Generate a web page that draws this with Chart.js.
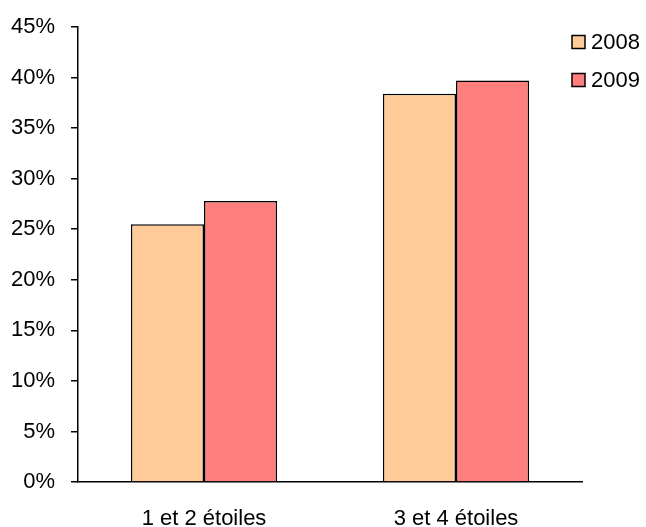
<!DOCTYPE html>
<html>
<head>
<meta charset="utf-8">
<script src="https://cdn.jsdelivr.net/npm/chart.js@4/dist/chart.umd.min.js"></script>
<style>
  html, body { margin: 0; padding: 0; background: #fff; }
  #chart-container { width: 646px; height: 527px; }
</style>
</head>
<body>
<div id="chart-container"><canvas id="mycanvas" width="646" height="527"></canvas></div>
<script>
var categories = ['1 et 2 étoiles', '3 et 4 étoiles'];
var valores2008 = [25.5, 38.4];
var valores2009 = [27.8, 39.7];
var yTicks = [0, 5, 10, 15, 20, 25, 30, 35, 40, 45];

var fontFamily = '"Liberation Sans", Arial, sans-serif';

// legend drawn at top right, like the original
var legendPlugin = {
    id: 'sideLegend',
    afterDraw: function (chart) {
        var ctx = chart.ctx;
        var sets = chart.data.datasets;
        ctx.save();
        ctx.font = '22px ' + fontFamily;
        ctx.textBaseline = 'middle';
        for (var i = 0; i < sets.length; i++) {
            var y = 42 + i * 38;
            ctx.fillStyle = sets[i].backgroundColor;
            ctx.fillRect(572, y - 6.5, 13, 13);
            ctx.lineWidth = 1.5;
            ctx.strokeStyle = '#000';
            ctx.strokeRect(572, y - 6.5, 13, 13);
            ctx.fillStyle = '#000';
            ctx.fillText(sets[i].label, 591, y + 1);
        }
        ctx.restore();
    }
};

var chartdata = {
    labels: categories,
    datasets: [{
        label: '2008',
        backgroundColor: '#FFCC99',
        borderColor: '#000',
        borderWidth: 1.5,
        data: valores2008
    }, {
        label: '2009',
        backgroundColor: '#FF7F7F',
        borderColor: '#000',
        borderWidth: 1.5,
        data: valores2009
    }]
};

var ctx = document.getElementById('mycanvas');
var barGraph = new Chart(ctx, {
    type: 'bar',
    data: chartdata,
    plugins: [legendPlugin],
    options: {
        responsive: false,
        animation: false,
        devicePixelRatio: 1,
        layout: { padding: { top: 27, right: 64, left: 0, bottom: 0 } },
        plugins: {
            legend: { display: false },
            tooltip: { enabled: false }
        },
        datasets: {
            bar: { categoryPercentage: 0.58, barPercentage: 1 }
        },
        scales: {
            x: {
                grid: { display: false },
                border: { display: true, color: '#000', width: 1.5 },
                ticks: {
                    color: '#000',
                    padding: 16,
                    maxRotation: 0,
                    font: { family: fontFamily, size: 22 }
                },
                afterFit: function (scale) { scale.height = 45; }
            },
            y: {
                min: 0,
                max: 45,
                afterBuildTicks: function (scale) {
                    scale.ticks = yTicks.map(function (v) { return { value: v }; });
                },
                grid: { drawOnChartArea: false, drawTicks: true, tickLength: 7, color: '#000', lineWidth: 1.5 },
                border: { display: true, color: '#000', width: 1.5 },
                ticks: {
                    color: '#000',
                    padding: 16,
                    autoSkip: false,
                    font: { family: fontFamily, size: 22, lineHeight: 1 },
                    callback: function (v) { return v + '%'; }
                },
                afterFit: function (scale) { scale.width = 78; }
            }
        }
    }
});
</script>
</body>
</html>
